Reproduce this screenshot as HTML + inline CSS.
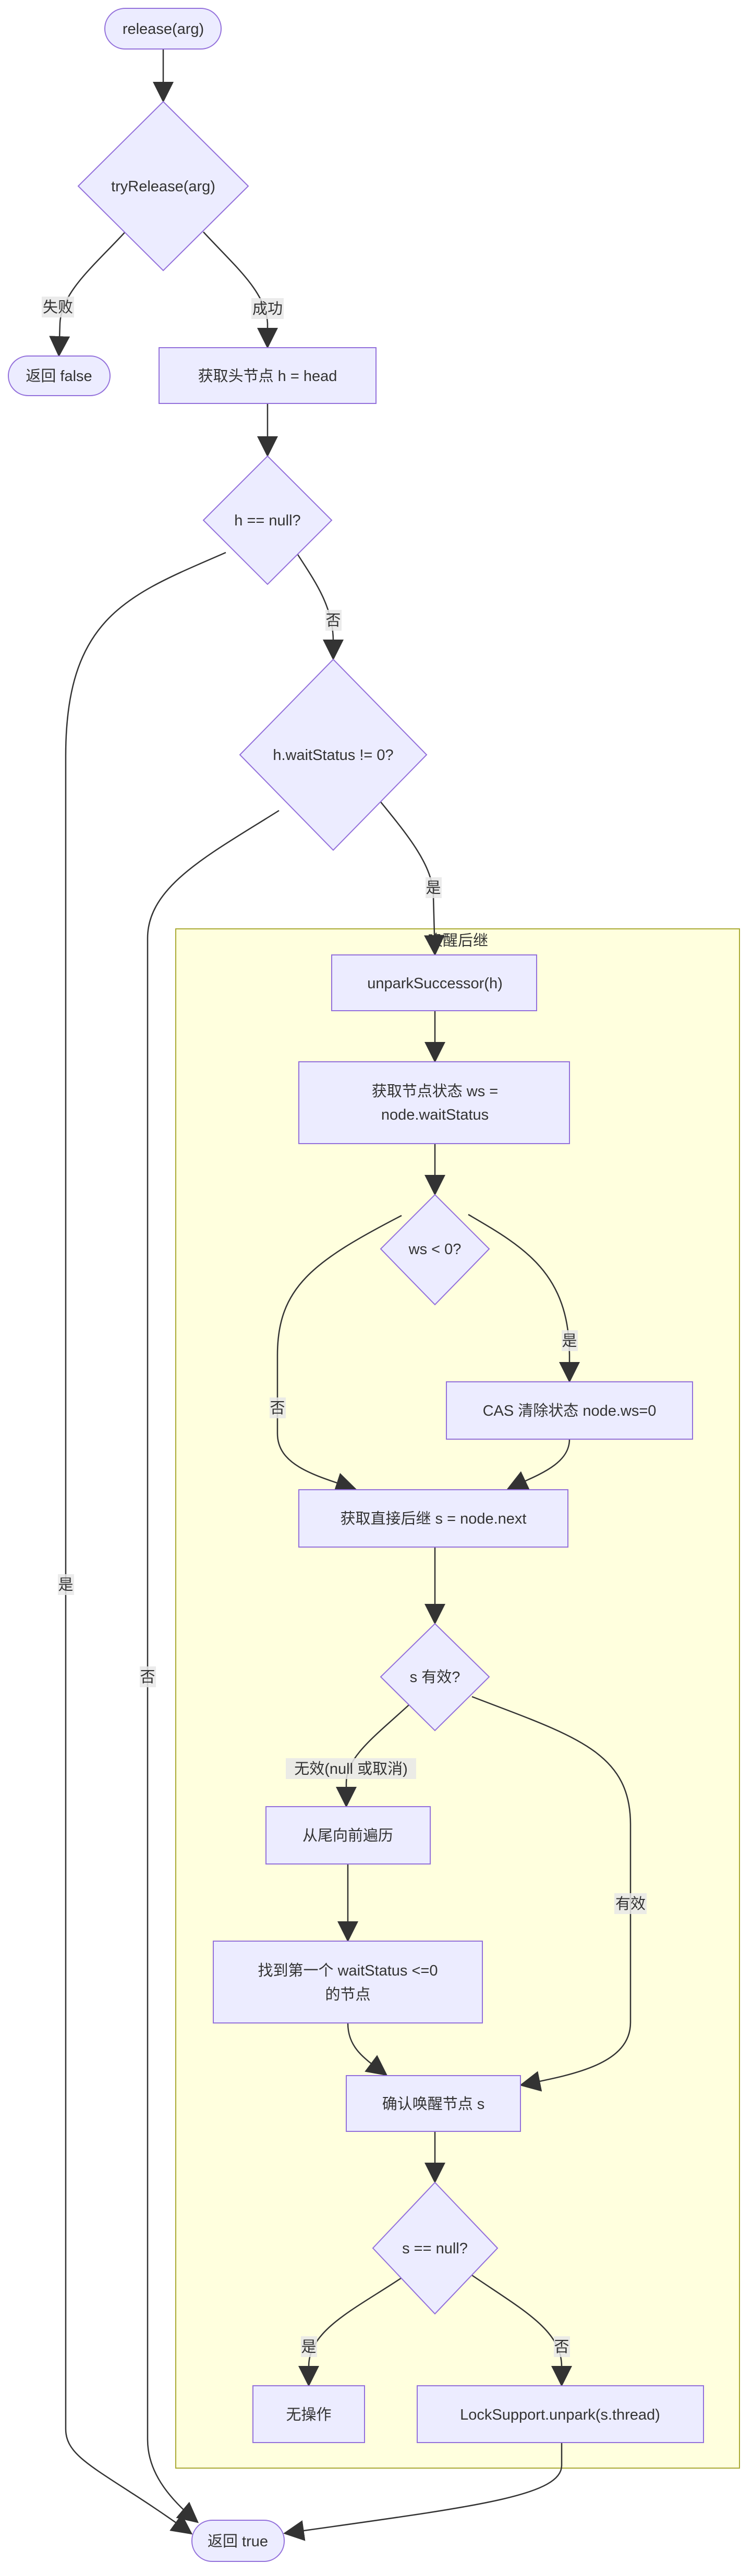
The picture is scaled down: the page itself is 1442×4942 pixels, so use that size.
<!DOCTYPE html>
<html><head><meta charset="utf-8"><style>
html,body{margin:0;padding:0;background:#fff;}
svg text{font-family:"Liberation Sans","Noto Sans CJK SC",sans-serif;fill:#333;font-size:29px;}
</style></head><body>
<svg width="1442" height="4937" viewBox="0 0 1442 4937" xmlns="http://www.w3.org/2000/svg">
<defs><marker id="a" viewBox="0 0 10 10" refX="9" refY="5" markerWidth="9" markerHeight="9" orient="auto-start-reverse" markerUnits="userSpaceOnUse"><path d="M0,0 L10,5 L0,10 z" fill="#333"/></marker>
<marker id="b" viewBox="0 0 10 10" refX="9" refY="5" markerWidth="16" markerHeight="16" orient="auto"><path d="M0,0 L10,5 L0,10 z" fill="#333"/></marker></defs>
<rect x="337" y="1782" width="1081" height="2953" fill="#FFFFDE" stroke="#AAAA33" stroke-width="2"/>
<text x="878" y="1814" text-anchor="middle">唤醒后继</text>
<g fill="none" stroke="#333" stroke-width="2.5" marker-end="url(#b)">
<path d="M313,94 L313,193"/>
<path d="M240,445 C180,510 118,560 115,620 L113,681"/>
<path d="M390,445 C450,510 510,560 513,620 L513,665"/>
<path d="M513,774 L513,873"/>
<path d="M562,1050 C600,1110 639,1160 639,1230 L639,1263"/>
<path d="M433,1060 C250,1140 126,1180 126,1450 L126,4660 C126,4720 200,4740 366,4860"/>
<path d="M535,1555 C400,1640 283,1700 283,1800 L283,4680 C283,4740 320,4790 378,4838"/>
<path d="M723,1530 C780,1600 831,1660 831,1720 L834,1830"/>
<path d="M834,1939 L834,2035"/>
<path d="M834,2194 L834,2290"/>
<path d="M898,2330 C1000,2390 1092,2440 1092,2600 L1092,2649"/>
<path d="M770,2332 C600,2420 532,2470 532,2600 L532,2750 C532,2810 600,2830 680,2856"/>
<path d="M1092,2761 C1092,2810 1030,2830 975,2856"/>
<path d="M834,2968 L834,3113"/>
<path d="M785,3270 C720,3330 664,3370 664,3420 L664,3464"/>
<path d="M905,3255 C1100,3330 1209,3360 1209,3500 L1209,3880 C1209,3960 1100,3980 1000,4000"/>
<path d="M667,3576 L667,3722"/>
<path d="M667,3881 C667,3930 700,3950 740,3980"/>
<path d="M834,4089 L834,4185"/>
<path d="M770,4370 C680,4430 592,4470 592,4540 L592,4575"/>
<path d="M905,4365 C1000,4430 1077,4470 1077,4540 L1077,4575"/>
<path d="M1077,4686 L1077,4730 C1077,4790 900,4810 547,4860"/>
</g>
<g fill="#ECECFF" stroke="#9370DB" stroke-width="2">
<rect x="201" y="16" width="223" height="78" rx="39"/>
<polygon points="313,195 476,357 313,519 150,357"/>
<rect x="16" y="683" width="195" height="76" rx="38"/>
<rect x="305" y="667" width="416" height="107"/>
<polygon points="513,875 636,998 513,1121 390,998"/>
<polygon points="639,1265 818,1448 639,1631 460,1448"/>
<rect x="636" y="1832" width="393" height="107"/>
<rect x="573" y="2037" width="519" height="157"/>
<polygon points="834,2292 938,2396 834,2503 730,2396"/>
<rect x="856" y="2651" width="472" height="110"/>
<rect x="573" y="2858" width="516" height="110"/>
<polygon points="834,3115 938,3217 834,3320 730,3217"/>
<rect x="510" y="3466" width="315" height="110"/>
<rect x="409" y="3724" width="516" height="157"/>
<rect x="664" y="3982" width="334" height="107"/>
<polygon points="834,4187 954,4313 834,4439 715,4313"/>
<rect x="485" y="4577" width="214" height="109"/>
<rect x="800" y="4577" width="549" height="109"/>
<rect x="368" y="4835" width="177" height="79" rx="39"/>
</g>
<g fill="#e8e8e8" opacity="0.85">
<rect x="80" y="569" width="62" height="40"/><rect x="482" y="572" width="62" height="40"/>
<rect x="624" y="1170" width="31" height="40"/><rect x="816" y="1683" width="31" height="40"/>
<rect x="1077" y="2552" width="31" height="40"/><rect x="517" y="2681" width="31" height="40"/>
<rect x="548" y="3373" width="250" height="40"/><rect x="1178" y="3632" width="62" height="40"/>
<rect x="577" y="4482" width="31" height="40"/><rect x="1062" y="4482" width="31" height="40"/>
<rect x="111" y="3020" width="31" height="40"/><rect x="268" y="3197" width="31" height="40"/>
</g>
<g text-anchor="middle">
<text x="313" y="65">release(arg)</text>
<text x="313" y="367">tryRelease(arg)</text>
<text x="113" y="731">返回 false</text>
<text x="513" y="731">获取头节点 h = head</text>
<text x="513" y="1008">h == null?</text>
<text x="639" y="1458">h.waitStatus != 0?</text>
<text x="834" y="1896">unparkSuccessor(h)</text>
<text x="834" y="2103">获取节点状态 ws =</text>
<text x="834" y="2148">node.waitStatus</text>
<text x="834" y="2406">ws &lt; 0?</text>
<text x="1092" y="2716">CAS 清除状态 node.ws=0</text>
<text x="831" y="2923">获取直接后继 s = node.next</text>
<text x="834" y="3227">s 有效?</text>
<text x="667" y="3531">从尾向前遍历</text>
<text x="667" y="3790">找到第一个 waitStatus &lt;=0</text>
<text x="667" y="3836">的节点</text>
<text x="831" y="4046">确认唤醒节点 s</text>
<text x="834" y="4323">s == null?</text>
<text x="592" y="4642">无操作</text>
<text x="1074" y="4642">LockSupport.unpark(s.thread)</text>
<text x="456" y="4885">返回 true</text>
<text x="111" y="599">失败</text><text x="513" y="602">成功</text>
<text x="639" y="1200">否</text><text x="831" y="1713">是</text>
<text x="1092" y="2582">是</text><text x="532" y="2711">否</text>
<text x="673" y="3403">无效(null 或取消)</text><text x="1209" y="3662">有效</text>
<text x="592" y="4512">是</text><text x="1077" y="4512">否</text>
<text x="126" y="3050">是</text><text x="283" y="3227">否</text>
</g>
</svg>
</body></html>
